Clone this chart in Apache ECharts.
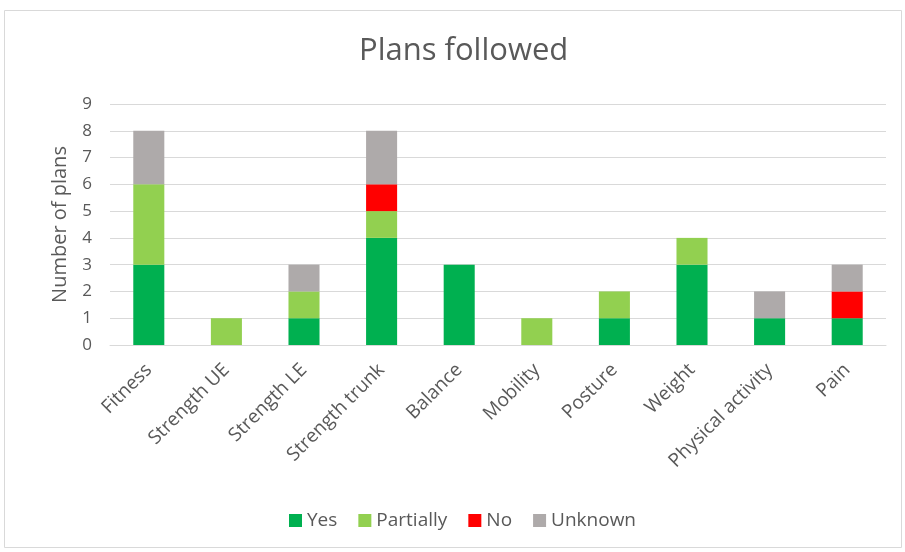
<!DOCTYPE html>
<html>
<head>
<meta charset="utf-8">
<script src="https://cdn.jsdelivr.net/npm/echarts@6/dist/echarts.min.js"></script>
<style>
  html, body { margin: 0; padding: 0; background: #fff; }
  #chart { width: 905px; height: 552px; }
</style>
</head>
<body>
<div id="chart"></div>
<script>
// 计划完成情况 - 堆叠柱状图
var categories = ['Fitness', 'Strength UE', 'Strength LE', 'Strength trunk', 'Balance',
  'Mobility', 'Posture', 'Weight', 'Physical activity', 'Pain'];
var yes       = [3, 0, 1, 4, 3, 0, 1, 3, 1, 1];
var partially = [3, 1, 1, 1, 0, 1, 1, 1, 0, 0];
var no        = [0, 0, 0, 1, 0, 0, 0, 0, 0, 1];
var unknown   = [2, 0, 1, 2, 0, 0, 0, 0, 1, 1];

(function () {
  var myChart = echarts.init(document.getElementById('chart'));
  var font = '"Open Sans", "Noto Sans", sans-serif';
  function bar(name, data, color) {
    return {
      name: name,
      type: 'bar',
      stack: 'total',
      barWidth: '40%',
      data: data,
      itemStyle: { color: color }
    };
  }
  var option = {
    textStyle: { fontFamily: font },
    title: {
      text: 'Plans followed',
      left: 354,
      top: 31,
      textStyle: { fontFamily: font, fontSize: 31, fontWeight: 'normal', color: '#595959' }
    },
    graphic: [{
      type: 'rect',
      shape: { x: 4.5, y: 10.5, width: 897, height: 537 },
      style: { fill: 'none', stroke: '#d9d9d9', lineWidth: 1 },
      silent: true
    }],
    legend: {
      top: 506,
      left: 284,
      itemWidth: 13,
      itemHeight: 13,
      itemGap: 21,
      icon: 'rect',
      textStyle: { fontFamily: font, fontSize: 19, color: '#595959' },
      data: ['Yes', 'Partially', 'No', 'Unknown']
    },
    grid: { left: 110, right: 19, top: 104, bottom: 207 },
    xAxis: {
      type: 'category',
      data: categories,
      axisTick: { show: false },
      axisLine: { lineStyle: { color: '#d9d9d9' } },
      axisLabel: { rotate: 45, fontSize: 19, color: '#595959', fontFamily: font, margin: 22, interval: 0 }
    },
    yAxis: {
      type: 'value',
      min: 0,
      max: 9,
      interval: 1,
      name: 'Number of plans',
      nameLocation: 'middle',
      nameGap: 40,
      nameTextStyle: { fontSize: 20, color: '#595959', fontFamily: font },
      axisLabel: { fontSize: 17, color: '#595959', fontFamily: font, margin: 18 },
      splitLine: { lineStyle: { color: '#d9d9d9' } }
    },
    series: [
      bar('Yes', yes, '#00B050'),
      bar('Partially', partially, '#92D050'),
      bar('No', no, '#FF0000'),
      bar('Unknown', unknown, '#AEAAAA')
    ]
  };
  myChart.setOption(option);
  window.addEventListener('resize', function () {
    myChart.resize();
  });
})();
</script>
</body>
</html>
